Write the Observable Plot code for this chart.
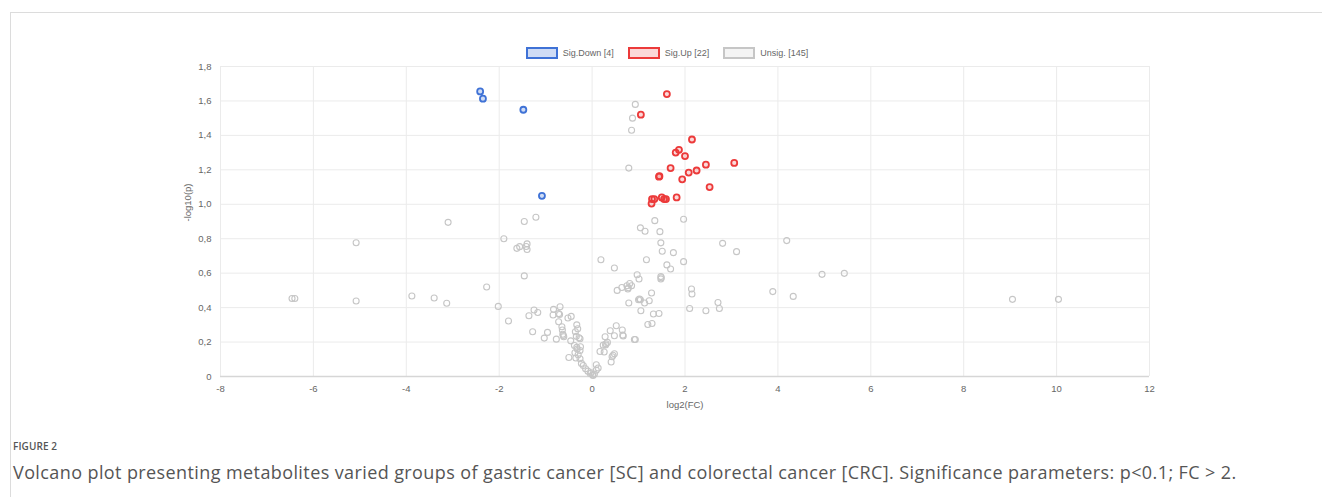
<!DOCTYPE html>
<html>
<head>
<meta charset="utf-8">
<script src="https://cdn.jsdelivr.net/npm/d3@7"></script>
<script src="https://cdn.jsdelivr.net/npm/@observablehq/plot@0.6"></script>
<style>
  html, body { margin: 0; padding: 0; background: #fff; width: 1322px; height: 497px; overflow: hidden; }
  #frame { position: absolute; left: 10px; top: 12px; width: 1312px; height: 485px; border-top: 1px solid #dcdcdc; border-left: 1px solid #dcdcdc; box-sizing: border-box; }
  #legend { position: absolute; top: 47px; left: 0; width: 1334px; display: flex; justify-content: center; align-items: center; font: 9px "Liberation Sans", Arial, sans-serif; color: #666; }
  .item { display: flex; align-items: center; margin: 0 7px; }
  .box { width: 28px; height: 8px; border-width: 2px; border-style: solid; margin-right: 5px; }
  #chart { position: absolute; left: 0; top: 60px; }
  #fig { position: absolute; left: 13px; top: 439px; font: 600 10px "Open Sans", sans-serif; color: #555; letter-spacing: 0.1px; }
  #cap { position: absolute; left: 13px; top: 460px; font: 18px "Open Sans", sans-serif; color: #555; white-space: nowrap; letter-spacing: 0.4px; }
</style>
</head>
<body>
<div id="frame"></div>
<div id="legend"></div>
<div id="chart"></div>
<div id="fig">FIGURE 2</div>
<div id="cap">Volcano plot presenting metabolites varied groups of gastric cancer [SC] and colorectal cancer [CRC]. Significance parameters: p&lt;0.1; FC &gt; 2.</div>
<script>
// ---- data ----
const seriesNames = ["Sig.Down [4]", "Sig.Up [22]", "Unsig. [145]"];
const xTicks = [-8, -6, -4, -2, 0, 2, 4, 6, 8, 10, 12];
const yTicks = [0, 0.2, 0.4, 0.6, 0.8, 1.0, 1.2, 1.4, 1.6, 1.8];

const downX = [-2.41, -2.35, -1.48, -1.08];
const downY = [1.655, 1.613, 1.549, 1.049];

const upX = [1.61, 1.05, 2.15, 1.87, 1.80, 2.00, 2.45, 3.06, 1.69, 2.25, 2.08, 1.45, 1.44, 1.94, 2.53, 1.29, 1.34, 1.50, 1.55, 1.59, 1.82, 1.28];
const upY = [1.64, 1.52, 1.376, 1.316, 1.30, 1.28, 1.23, 1.24, 1.21, 1.196, 1.184, 1.163, 1.16, 1.145, 1.10, 1.03, 1.03, 1.04, 1.03, 1.03, 1.04, 1.004];

const unsigX = [
  -6.46, -6.40, -5.08, -5.08, -3.88, -3.40, -3.13, -3.10, -2.27, -2.02,
  -1.90, -1.80, -1.62, -1.56, -1.46, -1.40, -1.40, -1.46, -1.21, -1.36,
  -1.25, -1.17, -1.28, -1.03, -0.96, -0.83, -0.69, -0.84, -0.72, -0.77,
  -0.72, -0.65, -0.64, -0.62, -0.61, -0.52, -0.45, -0.33, -0.36, -0.31,
  -0.46, -0.34, -0.26, -0.38, -0.33, -0.25, -0.26, -0.37, -0.30, -0.50,
  -0.35, -0.26, -0.23, -0.19, -0.14, -0.09, -0.04, 0.01, 0.05, 0.09,
  0.13, 0.09, 0.17, 0.26, 0.29, 0.33, 0.28, 0.39, 0.43, 0.48,
  0.41, 0.52, 0.65, 0.67, 0.48, 0.24, 0.54, 0.64, 0.75, 0.81,
  0.77, 0.85, 0.79, 1.00, 1.04, 1.13, 1.23, 1.28, 1.05, 1.32,
  1.44, 1.20, 1.29, 0.91, 0.93, 0.19, 0.48, 0.97, 1.01, 1.48,
  1.48, 1.17, 1.97, 1.61, 1.69, 1.04, 1.14, 1.35, 1.97, 1.46,
  1.48, 1.51, 1.75, 0.93, 0.87, 0.85, 0.79, 2.81, 3.11, 4.19,
  3.89, 4.33, 2.14, 2.15, 2.10, 2.45, 2.71, 2.74, 4.95, 5.43,
  9.05, 10.04, 0.30, -0.63, 0.02, -0.02, 0.78, 1.02, 1.49, -1.42,
  -0.28, 0.45, -0.70, 0.66, -0.32
];
const unsigY = [
  0.453, 0.453, 0.777, 0.438, 0.467, 0.456, 0.425, 0.895, 0.52, 0.407,
  0.80, 0.322, 0.744, 0.754, 0.90, 0.77, 0.737, 0.584, 0.925, 0.353,
  0.386, 0.372, 0.26, 0.223, 0.256, 0.39, 0.405, 0.357, 0.365, 0.217,
  0.318, 0.289, 0.27, 0.238, 0.231, 0.34, 0.349, 0.30, 0.26, 0.277,
  0.207, 0.233, 0.219, 0.18, 0.169, 0.173, 0.151, 0.138, 0.126, 0.11,
  0.107, 0.103, 0.076, 0.064, 0.045, 0.031, 0.017, 0.01, 0.014, 0.037,
  0.049, 0.068, 0.145, 0.142, 0.183, 0.198, 0.231, 0.266, 0.115, 0.132,
  0.084, 0.295, 0.27, 0.235, 0.237, 0.182, 0.50, 0.517, 0.527, 0.54,
  0.508, 0.527, 0.427, 0.446, 0.446, 0.427, 0.44, 0.485, 0.382, 0.363,
  0.366, 0.302, 0.308, 0.215, 0.215, 0.678, 0.63, 0.591, 0.566, 0.58,
  0.566, 0.678, 0.667, 0.648, 0.624, 0.863, 0.843, 0.905, 0.913, 0.841,
  0.776, 0.727, 0.719, 1.58, 1.50, 1.43, 1.21, 0.773, 0.725, 0.789,
  0.493, 0.465, 0.508, 0.479, 0.395, 0.382, 0.43, 0.395, 0.593, 0.599,
  0.448, 0.448, 0.19, 0.245, 0.006, 0.022, 0.515, 0.45, 0.573, 0.755,
  0.225, 0.123, 0.36, 0.24, 0.16
];

const colors = { down: "#3f72d6", up: "#ec3a3a", unsig: "#c6c6c6" };
const fills = { down: "rgba(63,114,214,0.25)", up: "rgba(236,58,58,0.2)", unsig: "rgba(200,200,200,0.2)" };

const toRows = (xs, ys) => xs.map((x, i) => ({ x, y: ys[i] }));
const down = toRows(downX, downY);
const up = toRows(upX, upY);
const unsig = toRows(unsigX, unsigY);

// ---- legend ----
const legend = document.getElementById("legend");
[["down", seriesNames[0]], ["up", seriesNames[1]], ["unsig", seriesNames[2]]].forEach(([k, name]) => {
  const it = document.createElement("div"); it.className = "item";
  const b = document.createElement("div"); b.className = "box";
  b.style.borderColor = colors[k]; b.style.background = fills[k];
  const t = document.createElement("span"); t.textContent = name;
  it.appendChild(b); it.appendChild(t); legend.appendChild(it);
});

// ---- chart ----
const fmtY = d => d === 0 ? "0" : d.toFixed(1).replace(".", ",");
const chart = Plot.plot({
  width: 1322,
  height: 360,
  marginLeft: 220,
  marginRight: 173,
  marginTop: 6,
  marginBottom: 44,
  style: { fontFamily: "'Liberation Sans', Arial, sans-serif", fontSize: "9.5px", color: "#666", background: "transparent" },
  x: { domain: [-8, 12] },
  y: { domain: [0, 1.8] },
  marks: [
    Plot.gridX(xTicks, { stroke: "#ebebeb", strokeOpacity: 1 }),
    Plot.gridY(yTicks, { stroke: "#ebebeb", strokeOpacity: 1 }),
    Plot.ruleY([0], { stroke: "#d6d6d6", strokeWidth: 1.5 }),
    Plot.axisX(xTicks, { tickSize: 0, tickPadding: 9, tickFormat: d => String(d), label: null }),
    Plot.axisY(yTicks, { tickSize: 0, tickPadding: 9, tickFormat: fmtY, label: null }),
    Plot.text(["log2(FC)"], { frameAnchor: "bottom", lineAnchor: "top", dy: 25, fill: "#666" }),
    Plot.text(["-log10(p)"], { frameAnchor: "left", rotate: -90, dx: -33, fill: "#666" }),
    Plot.dot(unsig, { x: "x", y: "y", r: 3, stroke: colors.unsig, strokeWidth: 1.1, fill: "none" }),
    Plot.dot(up, { x: "x", y: "y", r: 3, stroke: colors.up, strokeWidth: 1.8, fill: fills.up }),
    Plot.dot(down, { x: "x", y: "y", r: 3, stroke: colors.down, strokeWidth: 1.8, fill: fills.down })
  ]
});
document.getElementById("chart").appendChild(chart);
</script>
</body>
</html>
